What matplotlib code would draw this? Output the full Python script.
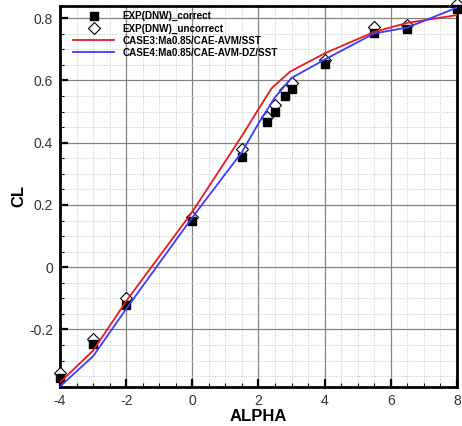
import numpy as np
import matplotlib
matplotlib.use("Agg")
import matplotlib.pyplot as plt
from matplotlib.ticker import MultipleLocator

plt.rcParams["font.family"] = ["Liberation Sans", "DejaVu Sans"]
plt.rcParams["axes.unicode_minus"] = False

# experiment (DNW), corrected and uncorrected
exp_alpha = [-4, -3, -2, 0, 1.5, 2.25, 2.5, 2.8, 3.0, 4.0, 5.5, 6.5, 8.0]
exp_cl_correct = [-0.357, -0.248, -0.12, 0.149, 0.355, 0.468, 0.50, 0.55, 0.571,
                  0.652, 0.754, 0.765, 0.829]
exp_cl_uncorrect = [-0.34, -0.232, -0.10, 0.162, 0.379, 0.484, 0.521, 0.57, 0.593,
                    0.665, 0.772, 0.778, 0.845]

# CFD cases
case3_alpha = [-4, -3, -2, 0, 1.5, 2.0, 2.4, 2.95, 4.0, 5.5, 6.5, 8.0]
case3_cl = [-0.37, -0.268, -0.109, 0.178, 0.422, 0.508, 0.575, 0.628,
            0.687, 0.756, 0.785, 0.81]
case4_alpha = [-4, -3, -2, 0, 1.5, 2.0, 2.5, 3.0, 4.0, 5.5, 6.5, 8.0]
case4_cl = [-0.383, -0.286, -0.134, 0.16, 0.37, 0.462, 0.546, 0.608,
            0.667, 0.751, 0.77, 0.834]

fig = plt.figure(figsize=(4.62, 4.26), dpi=100)
ax = fig.add_axes([0.130, 0.0915, 0.859, 0.895])

ax.plot(exp_alpha, exp_cl_uncorrect, ls="none", marker="D", ms=6.5, mfc="white",
        mec="black", mew=0.8, label="EXP(DNW)_uncorrect", zorder=3, clip_on=False)
ax.plot(exp_alpha, exp_cl_correct, ls="none", marker="s", ms=6, mfc="black",
        mec="black", label="EXP(DNW)_correct", zorder=4, clip_on=False)
ax.plot(case3_alpha, case3_cl, color="#e8181f", lw=1.3,
        label="CASE3:Ma0.85/CAE-AVM/SST", zorder=5)
ax.plot(case4_alpha, case4_cl, color="#3b3bff", lw=1.3,
        label="CASE4:Ma0.85/CAE-AVM-DZ/SST", zorder=5)

ax.set_xlim(-4, 8)
ax.set_ylim(-0.385, 0.84)
ax.xaxis.set_major_locator(MultipleLocator(2))
ax.xaxis.set_minor_locator(MultipleLocator(0.5))
ax.yaxis.set_major_locator(MultipleLocator(0.2))
ax.yaxis.set_minor_locator(MultipleLocator(0.05))
ax.yaxis.set_major_formatter(lambda v, p: "0" if abs(v) < 1e-9 else f"{v:g}")

ax.grid(which="major", color="#858585", lw=0.9)
ax.grid(which="minor", color="#c4c4c4", lw=0.7, ls=":")
ax.set_axisbelow(True)

ax.tick_params(which="major", direction="in", length=6, width=1.6,
               labelsize=10, labelcolor="#333333", pad=5)
ax.tick_params(which="minor", direction="in", length=3, width=0.8)
for s in ax.spines.values():
    s.set_linewidth(2)

ax.set_xlabel("ALPHA", fontsize=12, fontweight="bold", labelpad=1)
ax.set_ylabel("CL", fontsize=12, fontweight="bold", labelpad=2)

h, l = ax.get_legend_handles_labels()
order = [1, 0, 2, 3]
leg = ax.legend([h[i] for i in order], [l[i] for i in order], loc="upper left",
                bbox_to_anchor=(0.016, 1.004), frameon=False, fontsize=7.1,
                handlelength=4.1, handletextpad=0.9, labelspacing=0.22,
                borderaxespad=0.3)
for t in leg.get_texts():
    t.set_fontweight("bold")

fig.savefig("out.png", dpi=100)
